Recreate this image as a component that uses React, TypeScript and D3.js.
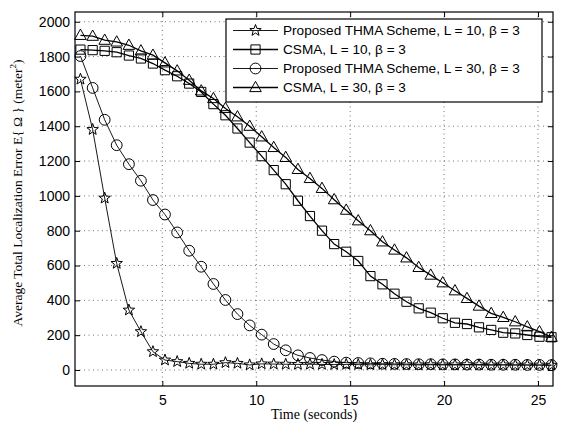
import React, { useEffect, useRef } from "react";
import * as d3 from "d3";

// sampling times (seconds)
const times = [
  0.64, 1.29, 1.93, 2.57, 3.22, 3.86, 4.5, 5.14, 5.79, 6.43,
  7.07, 7.72, 8.36, 9.0, 9.65, 10.29, 10.93, 11.57, 12.22, 12.86,
  13.5, 14.15, 14.79, 15.43, 16.08, 16.72, 17.36, 18.0, 18.65, 19.29,
  19.93, 20.58, 21.22, 21.86, 22.51, 23.15, 23.79, 24.43, 25.08, 25.72,
];

const thmaL10 = [
  1670, 1381, 987, 612, 344, 220, 105, 57, 48, 38,
  33, 33, 42, 38, 29, 35, 34, 33, 32, 33,
  32, 31, 32, 31, 30, 31, 30, 30, 29, 30,
  29, 29, 30, 29, 28, 29, 28, 28, 28, 27,
];

const csmaL10 = [
  1840, 1837, 1833, 1825, 1806, 1789, 1760, 1722, 1687, 1645,
  1597, 1527, 1463, 1387, 1306, 1228, 1148, 1067, 972, 884,
  800, 723, 679, 626, 539, 492, 438, 392, 354, 329,
  297, 271, 264, 245, 230, 214, 210, 201, 191, 188,
];

const thmaL30 = [
  1803, 1620, 1437, 1291, 1182, 1087, 976, 893, 790, 685,
  593, 494, 402, 321, 256, 203, 149, 113, 84, 69,
  57, 48, 42, 40, 38, 36, 35, 34, 33, 33,
  32, 32, 31, 31, 30, 30, 30, 29, 29, 28,
];

const csmaL30 = [
  1922, 1917, 1894, 1884, 1865, 1833, 1808, 1764, 1718, 1664,
  1603, 1559, 1502, 1454, 1400, 1339, 1278, 1221, 1152, 1100,
  1043, 978, 918, 857, 800, 736, 689, 644, 589, 545,
  501, 455, 411, 367, 325, 302, 277, 248, 220, 188,
];

const xTicks = [5, 10, 15, 20, 25];
const yTicks = [0, 200, 400, 600, 800, 1000, 1200, 1400, 1600, 1800, 2000];

const legendLabels = [
  "Proposed THMA Scheme, L = 10, β = 3",
  "CSMA, L = 10, β = 3",
  "Proposed THMA Scheme, L = 30, β = 3",
  "CSMA, L = 30, β = 3",
];

const starPath = (R: number, r: number) => {
  const pts: string[] = [];
  for (let i = 0; i < 10; i++) {
    const a = -Math.PI / 2 + (i * Math.PI) / 5;
    const rad = i % 2 === 0 ? R : r;
    pts.push((rad * Math.cos(a)).toFixed(2) + "," + (rad * Math.sin(a)).toFixed(2));
  }
  return "M" + pts.join("L") + "Z";
};

// marker shapes centred on 0,0
const markers: Record<string, string> = {
  star: starPath(6, 2.5),
  square: "M-4.6,-4.6H4.6V4.6H-4.6Z",
  circle: "M5.4,0A5.4,5.4 0 1,1 -5.4,0A5.4,5.4 0 1,1 5.4,0Z",
  triangle: "M0,-6.2L5.8,4.1H-5.8Z",
};

const series = [
  { values: thmaL10, marker: "star", width: 0.9 },
  { values: csmaL10, marker: "square", width: 1.3 },
  { values: thmaL30, marker: "circle", width: 0.9 },
  { values: csmaL30, marker: "triangle", width: 1.3 },
];

export default function App() {
  const svgRef = useRef<SVGSVGElement>(null);

  useEffect(() => {
    const svg = d3.select(svgRef.current);
    svg.selectAll("*").remove();

    const left = 75, right = 553, top = 12, bottom = 386;
    const x = d3.scaleLinear().domain([0.35, 25.8]).range([left, right]);
    const y = d3.scaleLinear().domain([-92, 2056]).range([bottom, top]);
    const font = "'Liberation Sans', Arial, Helvetica, sans-serif";
    const serif = "'Liberation Serif', 'Times New Roman', serif";

    svg.append("rect").attr("width", 565).attr("height", 427).attr("fill", "#fff");

    // dotted grid
    const grid = svg.append("g").attr("stroke", "#333").attr("stroke-width", 0.7)
      .attr("stroke-dasharray", "1,3.5");
    grid.selectAll(".gx").data(xTicks).join("line")
      .attr("x1", d => x(d)).attr("x2", d => x(d))
      .attr("y1", top).attr("y2", bottom);
    grid.selectAll(".gy").data(yTicks).join("line")
      .attr("x1", left).attr("x2", right)
      .attr("y1", d => y(d)).attr("y2", d => y(d));

    // axes, ticks inside
    const styleAxis = (g: any) => {
      g.select(".domain").remove();
      g.selectAll("line").attr("stroke", "#000");
      g.selectAll("text").attr("font-family", font).attr("font-size", 14).attr("fill", "#000");
    };
    svg.append("g").attr("transform", `translate(0,${bottom})`)
      .call(d3.axisBottom(x).tickValues(xTicks).tickSize(-5).tickPadding(9).tickFormat(d3.format("d")))
      .call(styleAxis);
    svg.append("g").attr("transform", `translate(0,${top})`)
      .call(d3.axisTop(x).tickValues(xTicks).tickSize(-5).tickFormat(() => ""))
      .call(styleAxis);
    svg.append("g").attr("transform", `translate(${left},0)`)
      .call(d3.axisLeft(y).tickValues(yTicks).tickSize(-5).tickPadding(5).tickFormat(d3.format("d")))
      .call(styleAxis);
    svg.append("g").attr("transform", `translate(${right},0)`)
      .call(d3.axisRight(y).tickValues(yTicks).tickSize(-5).tickFormat(() => ""))
      .call(styleAxis);

    // lines and markers
    const line = d3.line<number>().x((d, i) => x(times[i])).y(d => y(d));
    series.forEach(s => {
      svg.append("path").attr("d", line(s.values))
        .attr("fill", "none").attr("stroke", "#000").attr("stroke-width", s.width);
      svg.append("g").selectAll("path").data(s.values).join("path")
        .attr("transform", (d, i) => `translate(${x(times[i])},${y(d)})`)
        .attr("d", markers[s.marker])
        .attr("fill", "none").attr("stroke", "#000").attr("stroke-width", 1);
    });

    // plot box
    svg.append("rect").attr("x", left).attr("y", top)
      .attr("width", right - left).attr("height", bottom - top)
      .attr("fill", "none").attr("stroke", "#000").attr("stroke-width", 1.2);

    // legend
    const lg = svg.append("g");
    lg.append("rect").attr("x", 226).attr("y", 19).attr("width", 316).attr("height", 83)
      .attr("fill", "#fff").attr("stroke", "#000").attr("stroke-width", 1.2);
    legendLabels.forEach((label, i) => {
      const ly = 30.5 + i * 19;
      lg.append("line").attr("x1", 233).attr("x2", 278).attr("y1", ly).attr("y2", ly)
        .attr("stroke", "#000").attr("stroke-width", series[i].width);
      lg.append("path").attr("transform", `translate(255.5,${ly})`)
        .attr("d", markers[series[i].marker])
        .attr("fill", "none").attr("stroke", "#000").attr("stroke-width", 1);
      lg.append("text").attr("x", 283).attr("y", ly).attr("dy", "0.35em")
        .attr("font-family", font).attr("font-size", 13.6).text(label);
    });

    // axis titles
    svg.append("text").attr("x", (left + right) / 2).attr("y", 419)
      .attr("text-anchor", "middle").attr("font-family", serif)
      .attr("font-size", 14).text("Time (seconds)");
    const yl = svg.append("text")
      .attr("transform", `translate(22,${(top + bottom) / 2 - 6}) rotate(-90)`)
      .attr("text-anchor", "middle").attr("font-family", serif)
      .attr("font-size", 13.5);
    yl.append("tspan").text("Average Total Localization Error E{ Ω } (meter");
    yl.append("tspan").attr("font-size", 9).attr("dy", -6).text("2");
    yl.append("tspan").attr("dy", 6).text(")");
  }, []);

  return (
    <svg ref={svgRef} width={565} height={427}
      style={{ position: "absolute", left: 0, top: 0 }} />
  );
}
